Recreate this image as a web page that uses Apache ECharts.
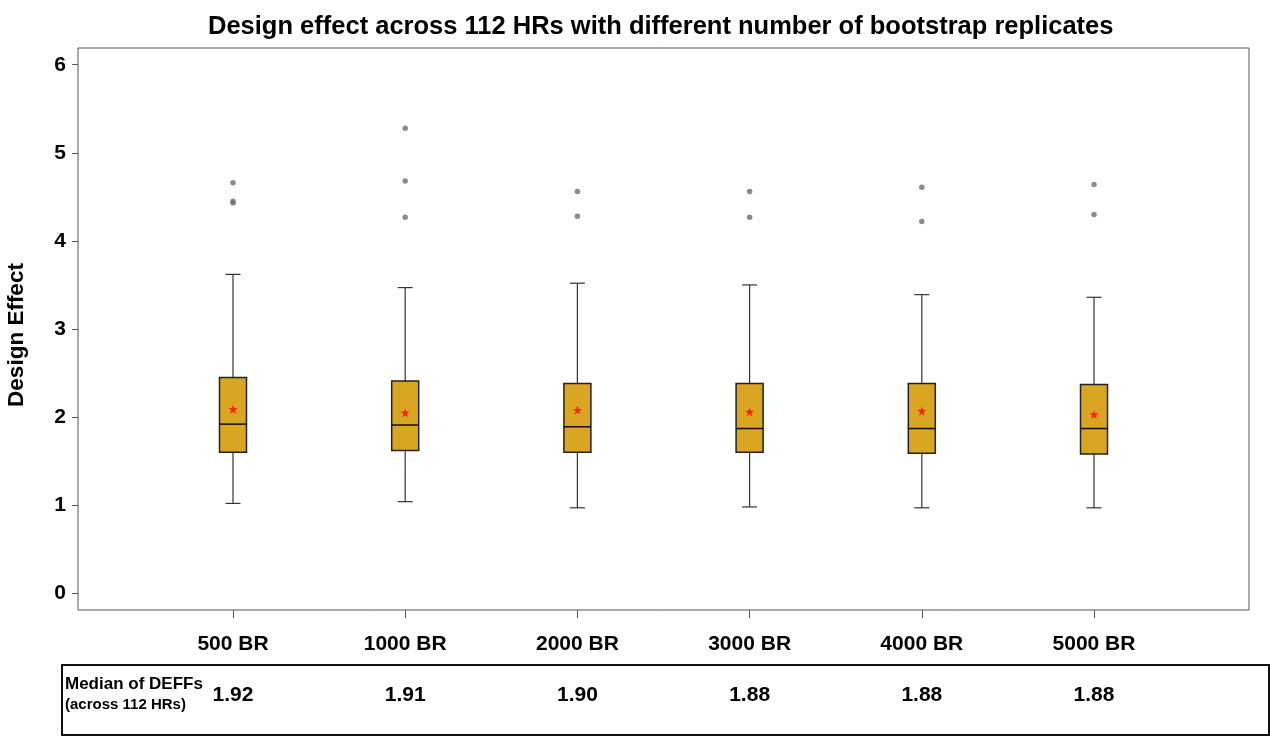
<!DOCTYPE html>
<html>
<head>
<meta charset="utf-8">
<script src="https://cdn.jsdelivr.net/npm/echarts@6/dist/echarts.min.js"></script>
<style>
  html, body { margin: 0; padding: 0; background: #fff; }
  #chart { width: 1270px; height: 742px; }
</style>
</head>
<body>
<div id="chart"></div>
<script>
// categories (bootstrap replicates)
var categories = ['500 BR', '1000 BR', '2000 BR', '3000 BR', '4000 BR', '5000 BR'];
// box statistics
var whiskerLow  = [1.02, 1.04, 0.97, 0.98, 0.97, 0.97];
var q1          = [1.60, 1.62, 1.60, 1.60, 1.59, 1.58];
var medians     = [1.92, 1.91, 1.89, 1.87, 1.87, 1.87];
var q3          = [2.45, 2.41, 2.38, 2.38, 2.38, 2.37];
var whiskerHigh = [3.62, 3.47, 3.52, 3.50, 3.39, 3.36];
var means       = [2.09, 2.05, 2.08, 2.06, 2.07, 2.03];
// outliers: [category index, value]
var outliers = [
  [0, 4.66], [0, 4.45], [0, 4.43],
  [1, 5.28], [1, 4.68], [1, 4.27],
  [2, 4.56], [2, 4.28],
  [3, 4.56], [3, 4.27],
  [4, 4.61], [4, 4.22],
  [5, 4.64], [5, 4.30]
];
// table row under the chart
var tableMedians = ['1.92', '1.91', '1.90', '1.88', '1.88', '1.88'];
var yTicks = [0, 1, 2, 3, 4, 5, 6];

var font = 'Liberation Sans';
var myChart = echarts.init(document.getElementById('chart'));

var xPos = categories.map(function (c, i) { return i + 1; });
var boxData = categories.map(function (c, i) {
  return [i + 1, whiskerLow[i], q1[i], medians[i], q3[i], whiskerHigh[i]];
});

var option = {
  animation: false,
  title: {
    text: 'Design effect across 112 HRs with different number of bootstrap replicates',
    left: 203,
    top: 9,
    textStyle: { fontFamily: font, fontSize: 25.5, fontWeight: 'bold', color: '#000' }
  },
  grid: [
    { left: 78, right: 21, top: 48, bottom: 132, show: true, borderColor: '#555', borderWidth: 1, outerBoundsMode: 'none', containLabel: false },
    { left: 62, right: 1, top: 665, bottom: 7, show: true, borderColor: '#111', borderWidth: 2, outerBoundsMode: 'none', containLabel: false }
  ],
  xAxis: [
    {
      type: 'value', gridIndex: 0, min: 0.1, max: 6.9,
      splitLine: { show: false },
      axisLine: { show: false, onZero: false },
      axisTick: { show: true, customValues: xPos, length: 8, lineStyle: { color: '#555' } },
      axisLabel: {
        customValues: xPos, margin: 24,
        fontFamily: font, fontSize: 21, fontWeight: 'bold', color: '#000',
        formatter: function (v) { return categories[Math.round(v) - 1] || ''; }
      }
    },
    { type: 'value', gridIndex: 1, min: 0.007, max: 7.016, show: false }
  ],
  yAxis: [
    {
      type: 'value', gridIndex: 0, min: -0.19, max: 6.19,
      name: 'Design Effect', nameLocation: 'middle', nameGap: 50,
      nameTextStyle: { fontFamily: font, fontSize: 22.5, fontWeight: 'bold', color: '#000', padding: [0, 12, 0, 0] },
      splitLine: { show: false },
      axisLine: { show: false, onZero: false },
      axisTick: { show: true, customValues: yTicks, length: 6, lineStyle: { color: '#555' } },
      axisLabel: {
        customValues: yTicks, margin: 12,
        fontFamily: font, fontSize: 21, fontWeight: 'bold', color: '#000'
      }
    },
    { type: 'value', gridIndex: 1, min: 0, max: 1, show: false }
  ],
  graphic: [
    {
      type: 'text', left: 65, top: 676,
      style: { text: 'Median of DEFFs', fontFamily: font, fontSize: 17, fontWeight: 'bold', fill: '#000' }
    },
    {
      type: 'text', left: 65, top: 697,
      style: { text: '(across 112 HRs)', fontFamily: font, fontSize: 15, fontWeight: 'bold', fill: '#000' }
    }
  ],
  series: [
    {
      type: 'custom',
      xAxisIndex: 0, yAxisIndex: 0,
      data: boxData,
      z: 2,
      renderItem: function (params, api) {
        var x = api.value(0);
        var lo = api.coord([x, api.value(1)]);
        var b1 = api.coord([x, api.value(2)]);
        var md = api.coord([x, api.value(3)]);
        var b3 = api.coord([x, api.value(4)]);
        var hi = api.coord([x, api.value(5)]);
        var hw = 13.5, cw = 7.5, cx = lo[0];
        var wStyle = { stroke: '#333', lineWidth: 1.2 };
        return {
          type: 'group',
          children: [
            { type: 'line', shape: { x1: cx, y1: hi[1], x2: cx, y2: b3[1] }, style: wStyle },
            { type: 'line', shape: { x1: cx, y1: b1[1], x2: cx, y2: lo[1] }, style: wStyle },
            { type: 'line', shape: { x1: cx - cw, y1: hi[1], x2: cx + cw, y2: hi[1] }, style: wStyle },
            { type: 'line', shape: { x1: cx - cw, y1: lo[1], x2: cx + cw, y2: lo[1] }, style: wStyle },
            {
              type: 'rect',
              shape: { x: cx - hw, y: b3[1], width: hw * 2, height: b1[1] - b3[1] },
              style: { fill: '#DAA520', stroke: '#222', lineWidth: 1.5 }
            },
            { type: 'line', shape: { x1: cx - hw, y1: md[1], x2: cx + hw, y2: md[1] }, style: { stroke: '#111', lineWidth: 1.5 } }
          ]
        };
      }
    },
    {
      type: 'scatter',
      xAxisIndex: 0, yAxisIndex: 0,
      symbol: 'circle', symbolSize: 5.5,
      itemStyle: { color: '#6e6e6e' },
      data: outliers.map(function (o) { return [o[0] + 1, o[1]]; }),
      z: 3
    },
    {
      type: 'scatter',
      xAxisIndex: 0, yAxisIndex: 0,
      symbol: 'path://M0,-5 L1.2,-1.6 L4.8,-1.5 L1.9,0.6 L2.9,4 L0,2 L-2.9,4 L-1.9,0.6 L-4.8,-1.5 L-1.2,-1.6Z',
      symbolSize: 9,
      itemStyle: { color: '#FF0000' },
      data: means.map(function (m, i) { return [i + 1, m]; }),
      z: 4
    },
    {
      type: 'custom',
      xAxisIndex: 1, yAxisIndex: 1,
      data: tableMedians.map(function (m, i) { return [i + 1, 0.57]; }),
      renderItem: function (params, api) {
        var p = api.coord([api.value(0), api.value(1)]);
        return {
          type: 'text',
          x: p[0], y: p[1],
          style: {
            text: tableMedians[params.dataIndex],
            align: 'center', verticalAlign: 'middle',
            font: 'bold 21px "Liberation Sans"', fill: '#000'
          }
        };
      }
    }
  ]
};
myChart.setOption(option);
</script>
</body>
</html>
